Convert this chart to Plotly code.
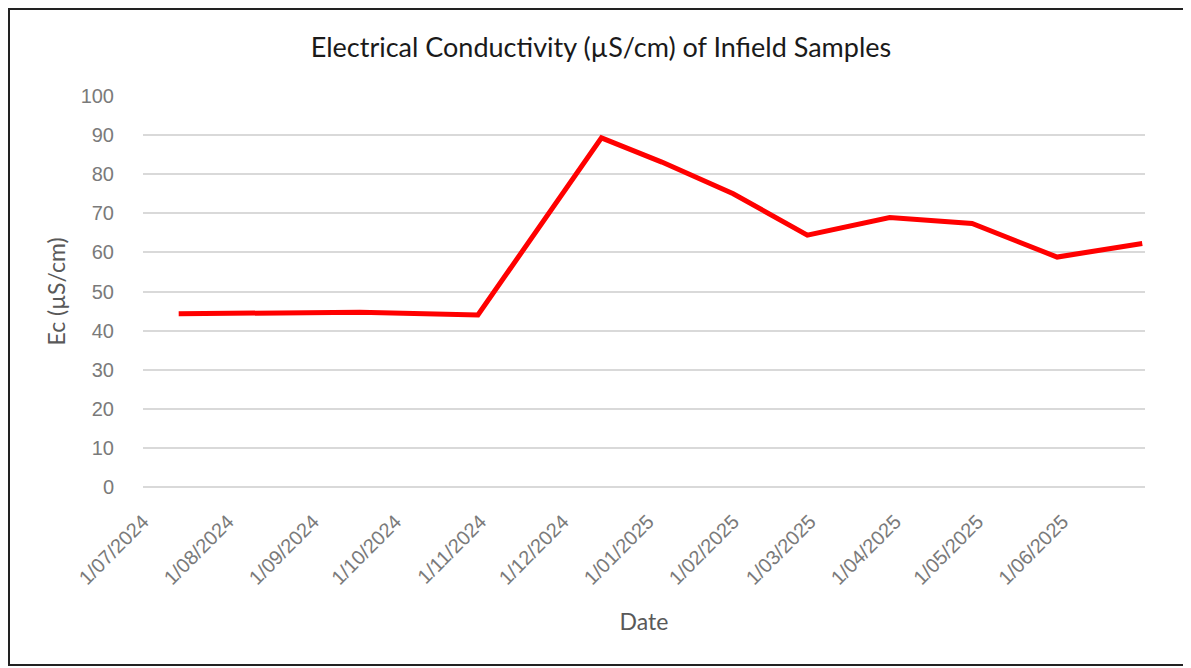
import plotly.graph_objects as go

# ---- data ----
sample_dates = ["2024-07-14", "2024-08-23", "2024-09-18", "2024-10-31", "2024-12-15",
                "2025-01-06", "2025-02-01", "2025-02-28", "2025-03-30", "2025-04-29",
                "2025-05-30", "2025-06-30"]
ec_values = [44.3, 44.7, 44.7, 44.0, 89.3, 83.1, 75.0, 64.4, 68.9, 67.4, 58.8, 62.3]

tick_dates = ["2024-07-01", "2024-08-01", "2024-09-01", "2024-10-01", "2024-11-01",
              "2024-12-01", "2025-01-01", "2025-02-01", "2025-03-01", "2025-04-01",
              "2025-05-01", "2025-06-01"]
tick_labels = ["1/07/2024", "1/08/2024", "1/09/2024", "1/10/2024", "1/11/2024",
               "1/12/2024", "1/01/2025", "1/02/2025", "1/03/2025", "1/04/2025",
               "1/05/2025", "1/06/2025"]

title_text = "Electrical Conductivity (µS/cm) of Infield Samples"
x_title = "Date"
y_title = "Ec (µS/cm)"

# ---- layout geometry (page body has an 8px margin) ----
OFF = 8
W, H = 1191 - OFF, 668 - OFF
L, R, T, B = 143 - OFF, 46, 96 - OFF, 181
pw, ph = W - L - R, H - T - B

fig = go.Figure()
fig.add_trace(go.Scatter(
    x=sample_dates, y=ec_values, mode="lines",
    line=dict(color="#FF0000", width=5),
    showlegend=False,
))

grid_col = "#D9D9D9"
tick_font = dict(family="Liberation Sans, Arial, sans-serif", size=20, color="#7A7A7A")
title_font = dict(family="Lato, sans-serif", size=23, color="#595959")

fig.update_layout(
    width=W, height=H,
    margin=dict(l=L, r=R, t=T, b=B, pad=0),
    paper_bgcolor="white", plot_bgcolor="white",
    title=dict(text=title_text, x=(601 - OFF) / W, xanchor="center", xref="container",
               y=1 - (48 - OFF) / H, yanchor="middle", yref="container",
               font=dict(family="Lato, sans-serif", size=27, color="#1a1a1a")),
    xaxis=dict(
        type="date", range=["2024-07-01", "2025-07-01"],
        tickmode="array", tickvals=tick_dates, ticktext=tick_labels,
        tickangle=-45, tickfont=tick_font,
        ticks="outside", ticklen=14, tickcolor="rgba(0,0,0,0)",
        showgrid=False, zeroline=False,
        showline=False,
        title=dict(text=x_title, font=title_font, standoff=26),
    ),
    yaxis=dict(
        range=[0, 100], tickmode="linear", tick0=0, dtick=10,
        tickfont=tick_font,
        ticks="outside", ticklen=24, tickcolor="rgba(0,0,0,0)",
        showgrid=True, gridcolor=grid_col, gridwidth=1.5,
        zeroline=True, zerolinecolor=grid_col, zerolinewidth=1.5,
        showline=False,
        title=dict(text=y_title, font=title_font, standoff=8),
    ),
    shapes=[dict(
        type="rect", xref="paper", yref="paper",
        x0=(1 - L) / pw, x1=(1187 - OFF - L) / pw,
        y0=(H - B - (665 - OFF)) / ph, y1=(H - B - 1) / ph,
        line=dict(color="#222222", width=2), fillcolor="rgba(0,0,0,0)",
        layer="below",
    )],
)

fig.write_html("out.html")
